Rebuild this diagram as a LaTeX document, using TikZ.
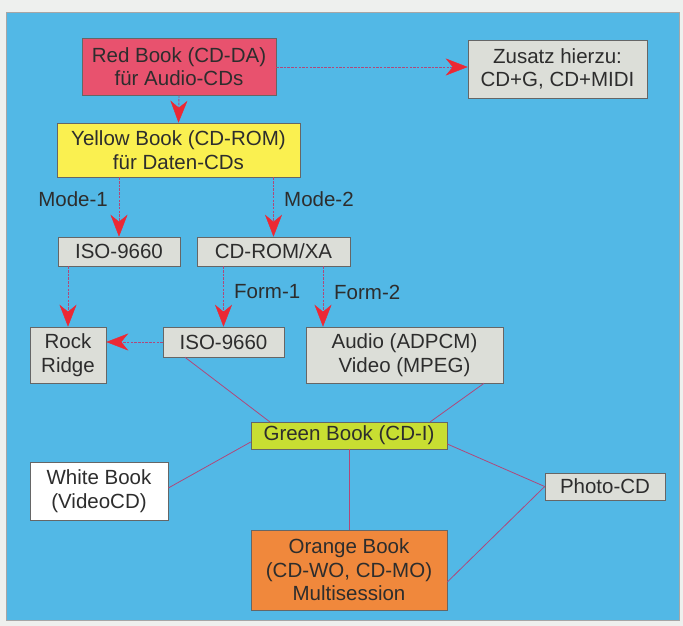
\documentclass[tikz,border=0pt]{standalone}
\usepackage{fontspec}
\setmainfont{Liberation Sans}
\usetikzlibrary{arrows.meta}
\definecolor{bgblue}{RGB}{82,184,230}
\definecolor{paper}{RGB}{238,240,238}
\definecolor{boxgray}{RGB}{220,222,216}
\definecolor{redbook}{RGB}{232,82,110}
\definecolor{yellowbook}{RGB}{250,240,80}
\definecolor{greenbook}{RGB}{200,222,50}
\definecolor{orangebook}{RGB}{240,136,60}
\definecolor{linkred}{RGB}{236,40,52}
\definecolor{linkpurple}{RGB}{176,72,122}
\definecolor{txt}{RGB}{45,45,45}
\tikzset{
  box/.style={draw=black!60, line width=0.6pt, fill=boxgray, align=center, inner sep=0pt,
     text=txt, font=\fontsize{20.5}{23.5}\selectfont},
  arr/.style={draw=linkpurple, line width=0.9pt, dash pattern=on 2.5pt off 1.2pt,
     -{Stealth[length=22pt,width=17pt,inset=7pt,color=linkred,fill=linkred,line width=0.4pt]}},
  link/.style={draw=linkpurple, line width=0.8pt},
  lbl/.style={text=txt, font=\fontsize{20.5}{23.5}\selectfont, inner sep=0pt}
}
\begin{document}
\begin{tikzpicture}[x=1pt,y=-1pt]
\useasboundingbox (0,0) rectangle (683,626);
\fill[paper] (0,0) rectangle (683,626);
\filldraw[fill=bgblue, draw=black!35, line width=0.6pt] (6,12) rectangle (679,620);

\node[box, fill=redbook, minimum width=194pt, minimum height=57pt] (red) at (179,66.5) {Red Book (CD-DA)\\für Audio-CDs};
\node[box, minimum width=179pt, minimum height=58pt] (zus) at (557.5,69) {Zusatz hierzu:\\CD+G, CD+MIDI};
\node[box, fill=yellowbook, minimum width=243pt, minimum height=54pt] (yellow) at (178.5,150) {Yellow Book (CD-ROM)\\für Daten-CDs};
\node[box, minimum width=122pt, minimum height=29pt] (iso1) at (119,251.5) {ISO-9660};
\node[box, minimum width=153pt, minimum height=29pt] (xa) at (273.5,251.5) {CD-ROM/XA};
\node[box, minimum width=76pt, minimum height=56pt] (rock) at (68,355) {Rock\\Ridge};
\node[box, minimum width=121pt, minimum height=30pt] (iso2) at (223.5,342) {ISO-9660};
\node[box, minimum width=197pt, minimum height=56pt] (av) at (404.5,355) {Audio (ADPCM)\\Video (MPEG)};
\node[box, fill=greenbook, minimum width=196pt, minimum height=27pt] (green) at (349,435.5) {Green Book (CD-I)};
\node[box, fill=white, minimum width=138pt, minimum height=58pt] (white) at (99,491) {White Book\\(VideoCD)};
\node[box, minimum width=120pt, minimum height=27pt] (photo) at (605,486.5) {Photo-CD};
\node[box, fill=orangebook, minimum width=196pt, minimum height=80pt] (orange) at (349,570) {Orange Book\\(CD-WO, CD-MO)\\Multisession};

\draw[arr] (red.east |- 0,67) -- (zus.west |- 0,67);
\draw[arr] (red.south) -- (yellow.north);
\draw[arr] (yellow.south -| iso1) -- (iso1.north);
\draw[arr] (yellow.south -| xa) -- (xa.north);
\draw[arr] (iso1.south -| rock) -- (rock.north);
\draw[arr] (xa.south -| iso2) -- (iso2.north);
\draw[arr] (xa.south -| 323,0) -- (av.north -| 323,0);
\draw[arr] (iso2.west) -- (rock.east |- iso2.west);

\node[lbl, anchor=east] (m1) at (108,199) {Mode-1};
\node[lbl, anchor=west] (m2) at (284,199) {Mode-2};
\node[lbl, anchor=west] (f1) at (234,292) {Form-1};
\node[lbl, anchor=west] (f2) at (334,292) {Form-2};

\coordinate (g1) at (270,422);
\coordinate (g2) at (430,422);
\draw[link] (iso2.south -| 185,0) -- (g1);
\draw[link] (av.south -| 484,0) -- (g2);
\draw[link] (green.west |- 0,442) -- (white.east |- 0,488);
\draw[link] (green.east |- 0,444) -- (photo.west);
\draw[link] (photo.west) -- (orange.east |- 0,582);
\draw[link] (green.south) -- (orange.north);
\end{tikzpicture}
\end{document}
